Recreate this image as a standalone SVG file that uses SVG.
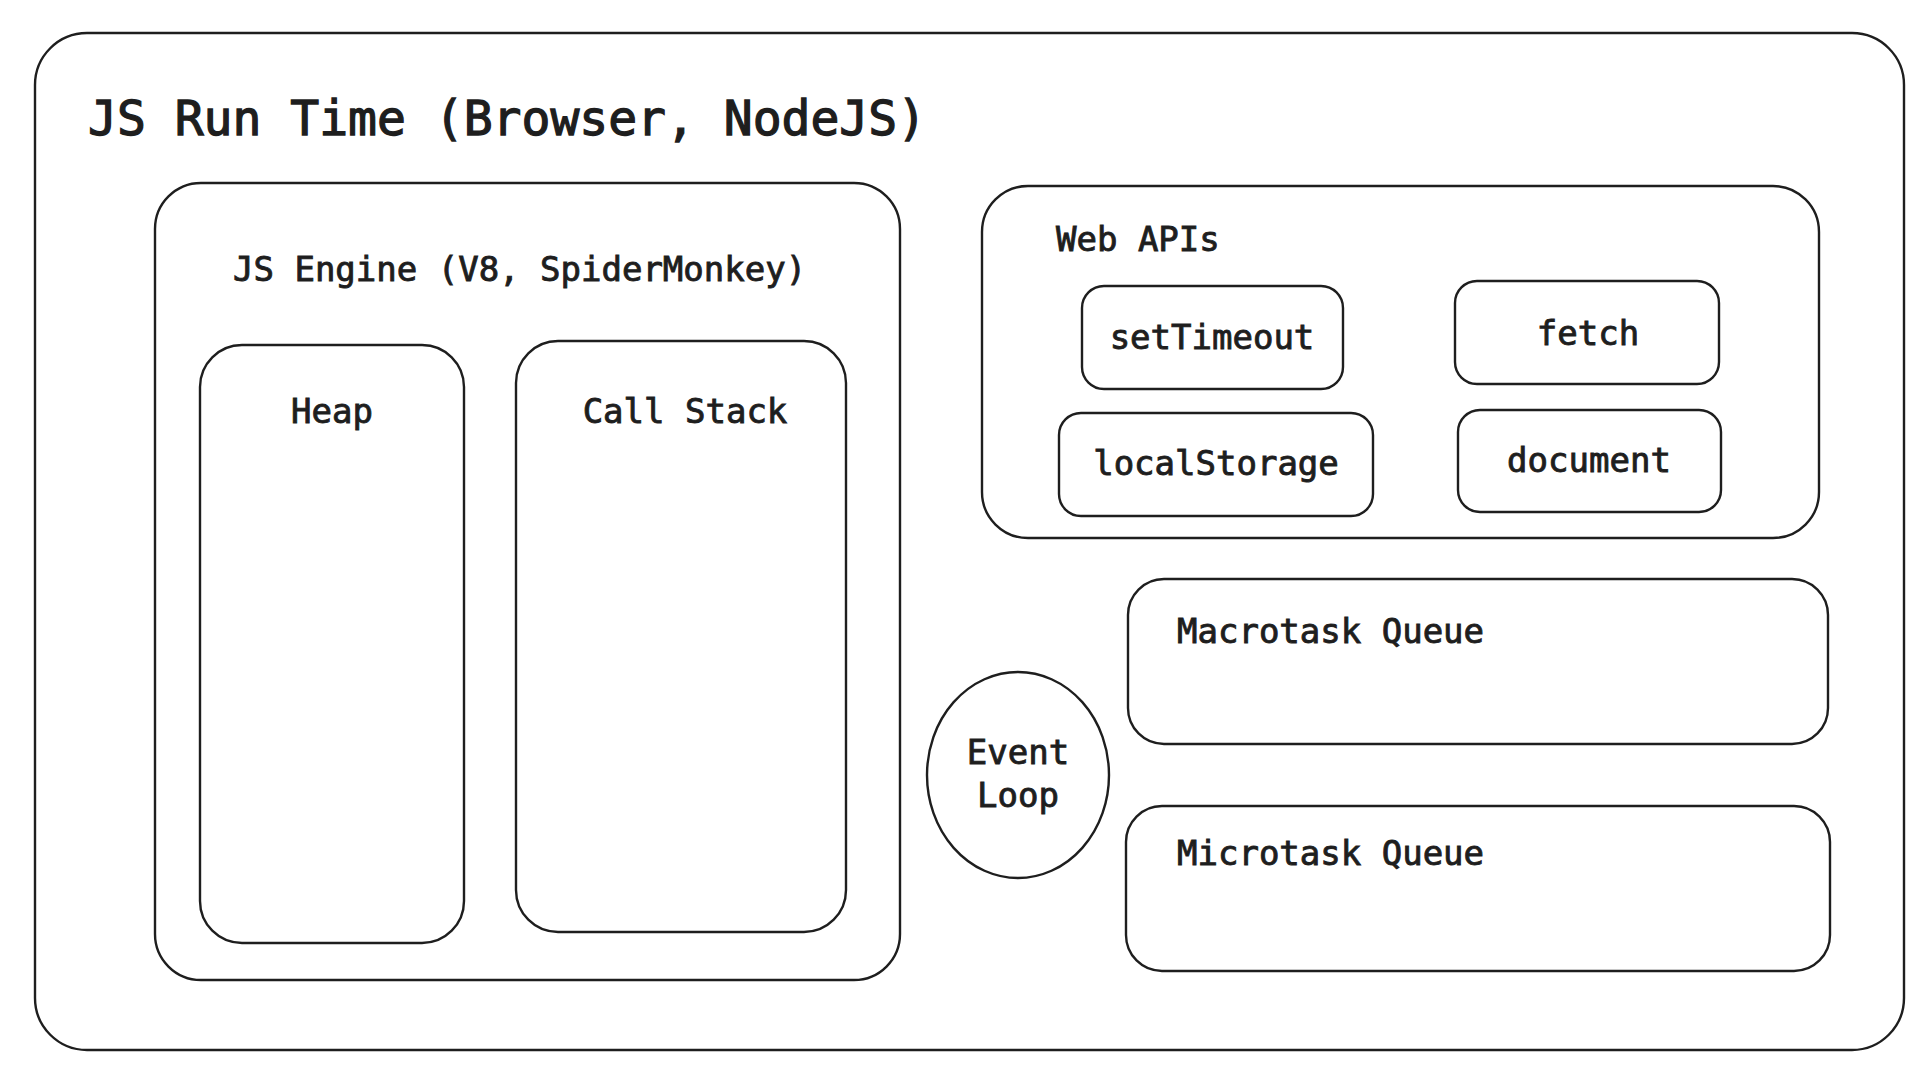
<svg xmlns="http://www.w3.org/2000/svg" width="1920" height="1070" viewBox="0 0 1920 1070">
<style>
.box{fill:none;stroke:#1e1e1e;stroke-width:2.4;stroke-linejoin:round}
.t{font-family:"DejaVu Sans Mono","Liberation Mono",monospace;fill:#1e1e1e;stroke:#1e1e1e;stroke-width:0.9;font-size:34px}
.title{font-size:48px;stroke-width:1.3}
.c{text-anchor:middle}
</style>
<rect width="1920" height="1070" fill="#ffffff"/>
<g id="runtime">
<rect class="box" x="35" y="33" width="1869" height="1017" rx="52" ry="52"/>
<text class="t title" x="88" y="135">JS Run Time (Browser, NodeJS)</text>
</g>
<g id="engine">
<rect class="box" x="155" y="183" width="745" height="797" rx="46" ry="46"/>
<text class="t" x="233" y="281">JS Engine (V8, SpiderMonkey)</text>
</g>
<g id="heap">
<rect class="box" x="200" y="345" width="264" height="598" rx="42" ry="42"/>
<text class="t c" x="332" y="423">Heap</text>
</g>
<g id="callstack">
<rect class="box" x="516" y="341" width="330" height="591" rx="42" ry="42"/>
<text class="t c" x="685" y="423">Call Stack</text>
</g>
<g id="webapis">
<rect class="box" x="982" y="186" width="837" height="352" rx="46" ry="46"/>
<text class="t" x="1056" y="251">Web APIs</text>
</g>
<g id="settimeout">
<rect class="box" x="1082" y="286" width="261" height="103" rx="22" ry="22"/>
<text class="t c" x="1212" y="349">setTimeout</text>
</g>
<g id="fetch">
<rect class="box" x="1455" y="281" width="264" height="103" rx="22" ry="22"/>
<text class="t c" x="1588" y="345">fetch</text>
</g>
<g id="localstorage">
<rect class="box" x="1059" y="413" width="314" height="103" rx="22" ry="22"/>
<text class="t c" x="1216" y="475">localStorage</text>
</g>
<g id="document">
<rect class="box" x="1458" y="410" width="263" height="102" rx="22" ry="22"/>
<text class="t c" x="1589" y="472">document</text>
</g>
<g id="macrotask">
<rect class="box" x="1128" y="579" width="700" height="165" rx="36" ry="36"/>
<text class="t" x="1177" y="643">Macrotask Queue</text>
</g>
<g id="microtask">
<rect class="box" x="1126" y="806" width="704" height="165" rx="36" ry="36"/>
<text class="t" x="1177" y="865">Microtask Queue</text>
</g>
<g id="eventloop">
<ellipse class="box" cx="1018" cy="775" rx="91" ry="103"/>
<text class="t c" x="1018" y="764">Event</text>
<text class="t c" x="1018" y="807">Loop</text>
</g>
<g id="connectors"></g>
</svg>
